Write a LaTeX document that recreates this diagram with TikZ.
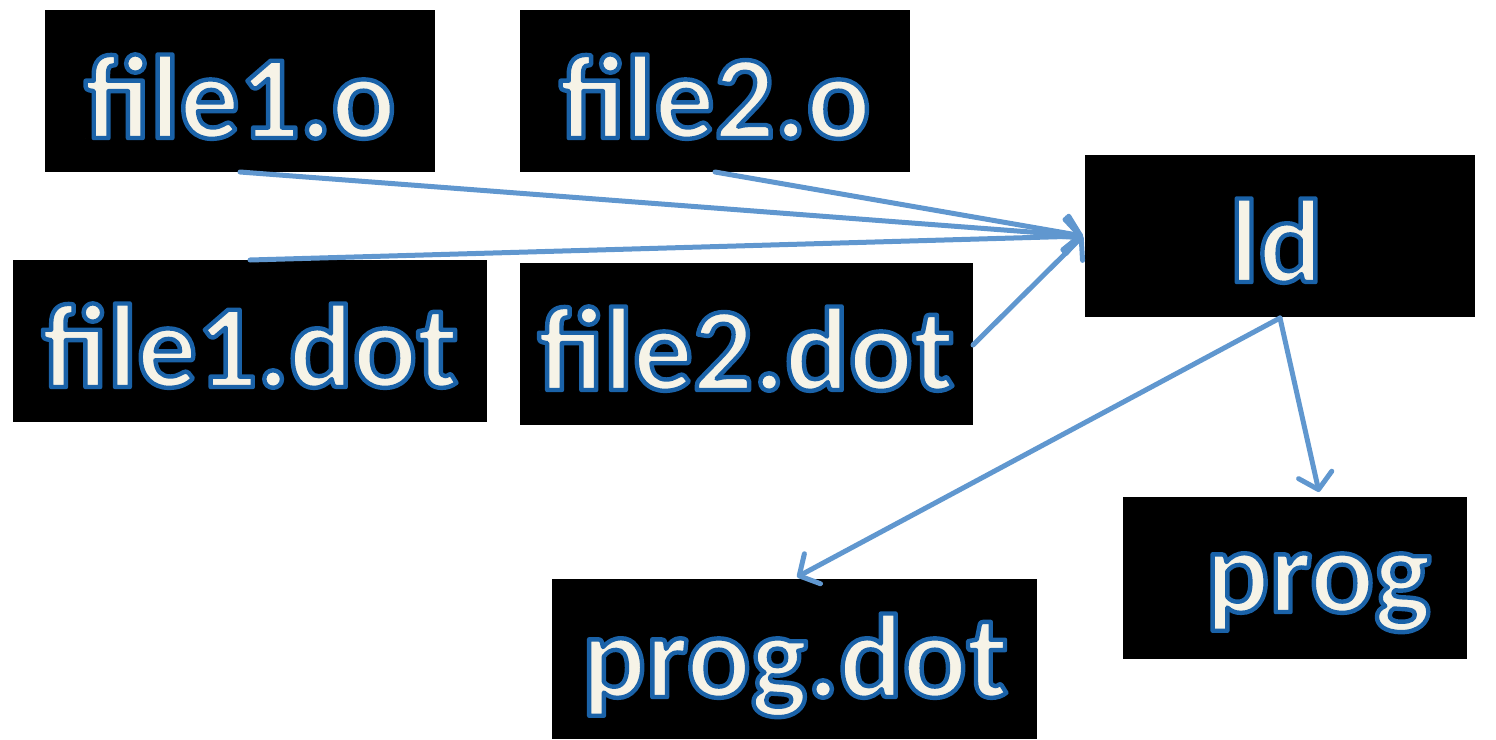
\documentclass[tikz,border=0pt]{standalone}
\usepackage{fontspec}
\setmainfont{Carlito}
\usetikzlibrary{arrows.meta}
\definecolor{cream}{HTML}{F6F3E7}
\definecolor{link}{HTML}{6097CF}
\tikzset{
  box/.style={fill=black, draw=none, inner sep=0pt, minimum width=#1},
  box/.default=390pt,
  lbl/.style={anchor=base, inner sep=0pt, text=cream,
    font=\bfseries\fontsize{119}{119}\selectfont},
  link/.style={draw=link, line width=5pt, line cap=round, line join=round,
    -{Straight Barb[length=15pt,width=34pt,line cap=round,line join=round]}},
}
% cream glyphs with a blue stroked rim (text render mode 2: fill, then stroke)
\newcommand\rimmed[1]{%
  \special{pdf:literal direct q 2 Tr 4.4 w 1 j 0.102 0.384 0.659 RG}%
  #1%
  \special{pdf:literal direct Q}}
\begin{document}
\begin{tikzpicture}[x=1pt,y=-1pt]
\useasboundingbox (0,0) rectangle (1496,739);
% boxes
\node[box=390pt, minimum height=162pt] (f1o) at (240,91) {};
\node[box=390pt, minimum height=162pt] (f2o) at (715,91) {};
\node[box=390pt, minimum height=162pt] (ld) at (1280,236) {};
\node[box=474pt, minimum height=162pt] (f1d) at (250,341) {};
\node[box=453pt, minimum height=162pt] (f2d) at (746.5,344) {};
\node[box=344pt, minimum height=162pt] (prog) at (1295,578) {};
\node[box=485pt, minimum height=160pt] (progd) at (794.5,659) {};
% labels, placed by their baselines
\node[lbl] (l1) at (240,138) {\rimmed{file1.o}};
\node[lbl] (l2) at (715,138) {\rimmed{file2.o}};
\node[lbl] (l3) at (1276,282) {\rimmed{ld}};
\node[lbl] (l4) at (250,387) {\rimmed{file1.dot}};
\node[lbl] (l5) at (746,390) {\rimmed{file2.dot}};
\node[lbl] (l6) at (1318,612) {\rimmed{prog}};
\node[lbl] (l7) at (795,697) {\rimmed{prog.dot}};
% connector end points
\coordinate (a1) at (240,172);
\coordinate (a2) at (715,172);
\coordinate (a3) at (250,260);
\coordinate (a4) at (973,345);
\coordinate (ldin) at (1083,236);
\coordinate (ldout) at (1280,318);
\coordinate (pin) at (1319,492);
\coordinate (pdin) at (797,577);
% connectors
\draw[link] (a1) -- (ldin);
\draw[link] (a2) -- (ldin);
\draw[link] (a3) -- (ldin);
\draw[link] (a4) -- (ldin);
\draw[link] (ldout) -- (pin);
\draw[link] (ldout) -- (pdin);
\end{tikzpicture}
\end{document}
